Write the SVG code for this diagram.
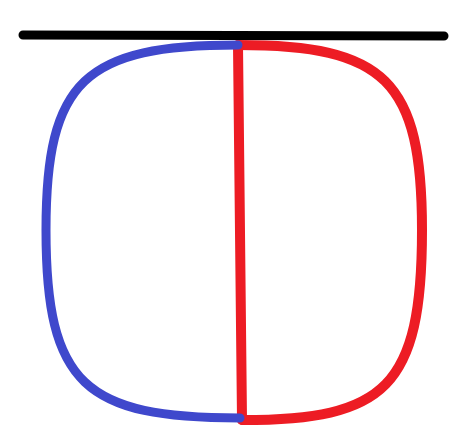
<svg xmlns="http://www.w3.org/2000/svg" width="470" height="433" viewBox="0 0 470 433">
<style>
.s{fill:none;stroke-linecap:round;stroke-linejoin:round}
.red{stroke:#ed1c24;stroke-width:10}
.blue{stroke:#3f48cc;stroke-width:9}
.black{stroke:#000;stroke-width:9}
</style>
<rect width="470" height="433" fill="#fff"/>
<g id="connectors">
<path class="s red" d="M238,45 C385,45 422,80 422,230 C422,388 385,420 242,420"/>
<path class="s red" d="M238,45 L242,420"/>
<path class="s blue" d="M238,45 C85,45 46,80 46,230 C46,385 85,418 240,418"/>
<path class="s black" d="M23,35 L444,36"/>
</g>
</svg>
